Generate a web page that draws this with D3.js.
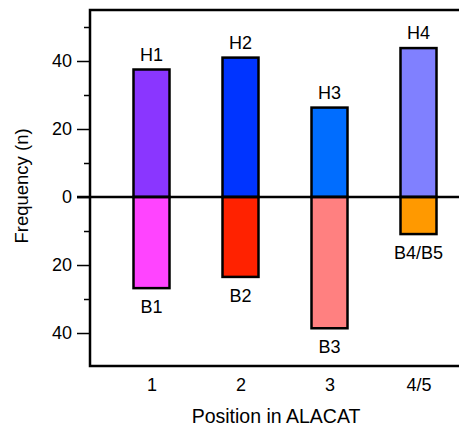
<!DOCTYPE html>
<meta charset="utf-8">
<head>
<style>
  body { margin: 0; background: #fff; }
  svg { display: block; font-family: "Liberation Sans", Arial, sans-serif; }
</style>
</head>
<body>
<script src="https://d3js.org/d3.v7.min.js"></script>
<script>
// data
var positions = ["1", "2", "3", "4/5"];
var topLabels = ["H1", "H2", "H3", "H4"];
var topValues = [37.5, 41, 26.3, 43.8];
var topColors = ["#8a36ff", "#0034ff", "#006dff", "#8080ff"];
var bottomLabels = ["B1", "B2", "B3", "B4/B5"];
var bottomValues = [26.8, 23.5, 38.6, 10.9];
var bottomColors = ["#ff44ff", "#ff2200", "#ff8080", "#ff9900"];
var majorTicks = [-40, -20, 0, 20, 40];
var minorTicks = [-30, -10, 10, 30, 50];

var W = 459, H = 430;
var plotLeft = 90, plotTop = 10, plotBottom = 366;

var svg = d3.select("body").append("svg")
    .attr("width", W).attr("height", H);

var y = d3.scaleLinear().domain([-49.7, 55]).range([plotBottom, plotTop]);
var x = d3.scalePoint().domain(positions).range([151.5, 418.5]);
var bw = 36;

// bars above zero
svg.selectAll("rect.h")
    .data(positions)
  .join("rect")
    .attr("class", "h")
    .attr("x", (d) => x(d) - bw / 2)
    .attr("y", (d, i) => y(topValues[i]))
    .attr("width", bw)
    .attr("height", (d, i) => y(0) - y(topValues[i]))
    .attr("fill", (d, i) => topColors[i])
    .attr("stroke", "#000").attr("stroke-width", 2.5);

// bars below zero
svg.selectAll("rect.b")
    .data(positions)
  .join("rect")
    .attr("class", "b")
    .attr("x", (d) => x(d) - bw / 2)
    .attr("y", y(0))
    .attr("width", bw)
    .attr("height", (d, i) => y(-bottomValues[i]) - y(0))
    .attr("fill", (d, i) => bottomColors[i])
    .attr("stroke", "#000").attr("stroke-width", 2.5);

svg.selectAll("text.hl")
    .data(positions)
  .join("text")
    .attr("class", "hl")
    .attr("x", (d) => x(d))
    .attr("y", (d, i) => y(topValues[i]) - 9)
    .attr("text-anchor", "middle")
    .attr("font-size", 18)
    .text((d, i) => topLabels[i]);

svg.selectAll("text.bl")
    .data(positions)
  .join("text")
    .attr("class", "bl")
    .attr("x", (d) => x(d))
    .attr("y", (d, i) => y(-bottomValues[i]) + 25)
    .attr("text-anchor", "middle")
    .attr("font-size", 18)
    .text((d, i) => bottomLabels[i]);

// zero line
svg.append("line")
    .attr("x1", plotLeft - 13).attr("x2", W)
    .attr("y1", y(0)).attr("y2", y(0))
    .attr("stroke", "#000").attr("stroke-width", 2.5);

// y axis
var yAxis = svg.append("g")
    .attr("transform", "translate(" + plotLeft + ",0)")
    .call(d3.axisLeft(y).tickValues(majorTicks).tickSize(13).tickPadding(5)
        .tickFormat((d) => Math.abs(d)));
yAxis.select(".domain").remove();
yAxis.selectAll(".tick line").attr("stroke-width", 1.5);
yAxis.selectAll(".tick text").attr("font-size", 18).attr("font-family", null).attr("fill", "#000");

svg.append("g")
    .attr("transform", "translate(" + plotLeft + ",0)")
    .call(d3.axisLeft(y).tickValues(minorTicks).tickSize(6).tickFormat(""))
    .call((g) => g.select(".domain").remove())
    .selectAll(".tick line").attr("stroke-width", 1.5);

// x axis labels
var xAxis = svg.append("g")
    .attr("transform", "translate(0," + plotBottom + ")")
    .call(d3.axisBottom(x).tickSize(0).tickPadding(12));
xAxis.select(".domain").remove();
xAxis.selectAll(".tick text").attr("font-size", 18).attr("font-family", null).attr("fill", "#000");

// frame: left, top, bottom (open on the right)
svg.append("path")
    .attr("d", "M" + W + "," + plotTop + "H" + plotLeft + "V" + plotBottom + "H" + W)
    .attr("fill", "none").attr("stroke", "#000").attr("stroke-width", 2.5);

svg.append("text")
    .attr("x", 276).attr("y", 423)
    .attr("text-anchor", "middle")
    .attr("font-size", 19.5)
    .text("Position in ALACAT");

svg.append("text")
    .attr("transform", "translate(28,186) rotate(-90)")
    .attr("text-anchor", "middle")
    .attr("font-size", 18.5)
    .text("Frequency (n)");
</script>
</body>
